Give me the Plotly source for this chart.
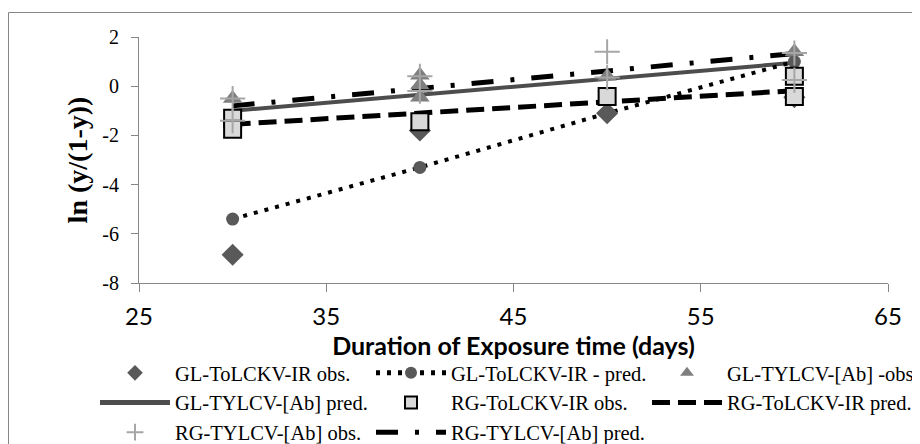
import plotly.graph_objects as go

# ---------------- data ----------------
days = [30, 40, 50, 60]

gl_tolckv_obs_x = [30, 40, 50, 60]
gl_tolckv_obs_y = [-6.85, -1.8, -1.1, -0.45]
gl_tolckv_pred = [-5.4, -3.3, -1.1, 1.0]

gl_tylcv_obs_x = [30, 40, 40, 40, 50, 60]
gl_tylcv_obs_y = [-0.5, 0.45, 0.05, -0.45, 0.4, 1.4]
gl_tylcv_pred = [-1.0, -0.35, 0.3, 0.95]

rg_tolckv_obs_x = [30, 30, 40, 50, 60, 60]
rg_tolckv_obs_y = [-1.3, -1.75, -1.45, -0.42, 0.4, -0.42]
rg_tolckv_pred = [-1.55, -1.09, -0.64, -0.18]

rg_tylcv_obs_x = [30, 30, 40, 40, 50, 50, 60, 60]
rg_tylcv_obs_y = [-0.5, -1.4, 0.4, -0.2, 1.4, 0.35, 1.35, 0.25]
rg_tylcv_pred = [-0.8, -0.09, 0.62, 1.33]

x_ticks = [25, 35, 45, 55, 65]
y_ticks = [-8, -6, -4, -2, 0, 2]

names = [
    "GL-ToLCKV-IR obs.",
    "GL-ToLCKV-IR - pred.",
    "GL-TYLCV-[Ab] -obs",
    "GL-TYLCV-[Ab] pred.",
    "RG-ToLCKV-IR obs.",
    "RG-ToLCKV-IR pred.",
    "RG-TYLCV-[Ab] obs.",
    "RG-TYLCV-[Ab] pred.",
]

fig = go.Figure()

# prediction lines (drawn first)
fig.add_trace(go.Scatter(x=days, y=gl_tylcv_pred, name=names[3], legendrank=4,
                         mode="lines", line=dict(color="#4d4d4d", width=4)))
fig.add_trace(go.Scatter(x=days, y=rg_tolckv_pred, name=names[5], legendrank=6,
                         mode="lines", line=dict(color="black", width=5, dash="18px,8px")))
fig.add_trace(go.Scatter(x=days, y=rg_tylcv_pred, name=names[7], legendrank=8,
                         mode="lines", line=dict(color="black", width=5, dash="22px,17px,4px,17px")))
fig.add_trace(go.Scatter(x=days, y=gl_tolckv_pred, name=names[1], legendrank=2,
                         mode="lines+markers", line=dict(color="black", width=4, dash="4px,7px"),
                         marker=dict(symbol="circle", size=13, color="#595959")))

# observations
fig.add_trace(go.Scatter(x=gl_tolckv_obs_x, y=gl_tolckv_obs_y, name=names[0], legendrank=1,
                         mode="markers", marker=dict(symbol="diamond", size=17, color="#595959")))
fig.add_trace(go.Scatter(x=gl_tylcv_obs_x, y=gl_tylcv_obs_y, name=names[2], legendrank=3,
                         mode="markers", marker=dict(symbol="triangle-up", size=17, color="#7f7f7f")))
fig.add_trace(go.Scatter(x=rg_tolckv_obs_x, y=rg_tolckv_obs_y, name=names[4], legendrank=5,
                         mode="markers", marker=dict(symbol="square", size=17, color="#d9d9d9",
                                                     line=dict(color="black", width=2))))
fig.add_trace(go.Scatter(x=rg_tylcv_obs_x, y=rg_tylcv_obs_y, name=names[6], legendrank=7,
                         mode="markers", marker=dict(symbol="cross-thin-open", size=18, color="#a6a6a6",
                                                     line=dict(color="#a6a6a6", width=2))))

# page body has an 8px margin: figure is placed at (8, 8) in the window
OFF = 8
W, H = 920 - OFF, 444 - OFF
L = 139 - OFF
T = 37 - OFF
R = W - (888 - OFF)
B = H - (283 - OFF)
pw, ph = W - L - R, H - T - B


def px_x(px):
    return (px - OFF - L) / pw


def px_y(py):
    return (H - B - (py - OFF)) / ph


fig.update_layout(
    width=W, height=H,
    margin=dict(l=L, r=R, t=T, b=B, autoexpand=False),
    paper_bgcolor="white", plot_bgcolor="white",
    showlegend=True,
    legend=dict(
        orientation="h",
        x=px_x(95), xanchor="left",
        y=px_y(353), yanchor="top",
        itemwidth=70,
        entrywidth=191, entrywidthmode="pixels",
        font=dict(family="Liberation Serif", size=20.5, color="black"),
        bgcolor="rgba(0,0,0,0)",
        itemsizing="constant",
    ),
    xaxis=dict(
        range=[25, 65], tickvals=x_ticks, ticktext=[str(v) for v in x_ticks],
        showgrid=False, zeroline=False,
        showline=True, linecolor="#868686", linewidth=1,
        ticks="outside", ticklen=8, tickcolor="#868686", tickwidth=1,
        ticklabelstandoff=4,
        tickfont=dict(family="Lato", size=24, color="black"),
        title=dict(text="<b>Duration of Exposure time (days)</b>",
                   font=dict(family="Lato", size=25, color="black"), standoff=8),
    ),
    yaxis=dict(
        range=[-8, 2], tickvals=y_ticks, ticktext=[str(v) for v in y_ticks],
        showgrid=False, zeroline=False,
        showline=True, linecolor="#868686", linewidth=1,
        ticks="outside", ticklen=7, tickcolor="#868686", tickwidth=1,
        ticklabelstandoff=8,
        tickfont=dict(family="Liberation Serif", size=20, color="black"),
        title=dict(text="<b>ln (y/(1-y))</b>",
                   font=dict(family="Liberation Serif", size=28, color="black"), standoff=6),
    ),
    shapes=[dict(type="rect", xref="paper", yref="paper",
                 x0=px_x(8.5), x1=px_x(918.5), y0=px_y(470), y1=px_y(12.5),
                 line=dict(color="#868686", width=1), fillcolor="rgba(0,0,0,0)", layer="below")],
)

fig.write_html("out.html")
